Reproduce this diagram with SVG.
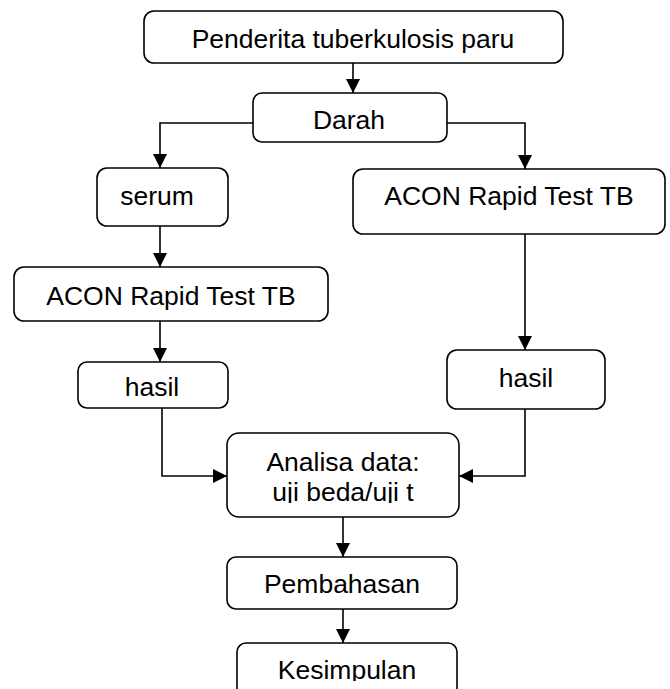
<svg xmlns="http://www.w3.org/2000/svg" width="670" height="689" viewBox="0 0 670 689">
<style>
.box{fill:#fff;stroke:#000;stroke-width:1.6}
.lbl{font-family:"Liberation Sans",Arial,sans-serif;font-size:26.5px;fill:#000;text-anchor:middle}
.con{fill:none;stroke:#000;stroke-width:1.6}
</style>
<defs>
<marker id="ah" markerUnits="userSpaceOnUse" markerWidth="15" markerHeight="15" refX="14" refY="7" orient="auto">
<path d="M0,0 L14,7 L0,14 z" fill="#000"/>
</marker>
<clipPath id="clipA"><rect x="227" y="433" width="232" height="70"/></clipPath>
<clipPath id="clipK"><rect x="237" y="643" width="220" height="38"/></clipPath>
</defs>
<g id="connectors">
<path class="con" d="M353 63 V93" marker-end="url(#ah)"/>
<path class="con" d="M253 123 H160 V168" marker-end="url(#ah)"/>
<path class="con" d="M447 123 H525 V169" marker-end="url(#ah)"/>
<path class="con" d="M160 226 V267" marker-end="url(#ah)"/>
<path class="con" d="M160 321 V362" marker-end="url(#ah)"/>
<path class="con" d="M525 234 V350" marker-end="url(#ah)"/>
<path class="con" d="M162 408 V476 H227" marker-end="url(#ah)"/>
<path class="con" d="M525 409 V476 H459" marker-end="url(#ah)"/>
<path class="con" d="M343 517 V557" marker-end="url(#ah)"/>
<path class="con" d="M343 609 V643" marker-end="url(#ah)"/>
</g>
<g id="penderita">
<rect class="box" x="144" y="11" width="419" height="52" rx="10"/>
<text class="lbl" x="353" y="48">Penderita tuberkulosis paru</text>
</g>
<g id="darah">
<rect class="box" x="253" y="93" width="194" height="49" rx="9"/>
<text class="lbl" x="349" y="129">Darah</text>
</g>
<g id="serum">
<rect class="box" x="97" y="168" width="131" height="58" rx="10"/>
<text class="lbl" x="157" y="205">serum</text>
</g>
<g id="acon-left">
<rect class="box" x="14" y="267" width="314" height="54" rx="10"/>
<text class="lbl" x="171" y="305">ACON Rapid Test TB</text>
</g>
<g id="acon-right">
<rect class="box" x="353" y="169" width="312" height="65" rx="10"/>
<text class="lbl" x="509" y="205">ACON Rapid Test TB</text>
</g>
<g id="hasil-left">
<rect class="box" x="78" y="362" width="150" height="46" rx="9"/>
<text class="lbl" x="152" y="396">hasil</text>
</g>
<g id="hasil-right">
<rect class="box" x="447" y="350" width="158" height="59" rx="10"/>
<text class="lbl" x="526" y="387">hasil</text>
</g>
<g id="analisa">
<rect class="box" x="227" y="433" width="232" height="84" rx="12"/>
<g clip-path="url(#clipA)">
<text class="lbl" x="343" y="471">Analisa data:</text>
<text class="lbl" x="343" y="501">uji beda/uji t</text>
</g>
</g>
<g id="pembahasan">
<rect class="box" x="227" y="557" width="230" height="52" rx="9"/>
<text class="lbl" x="342" y="593">Pembahasan</text>
</g>
<g id="kesimpulan">
<rect class="box" x="237" y="643" width="220" height="60" rx="9"/>
<g clip-path="url(#clipK)">
<text class="lbl" x="347" y="679">Kesimpulan</text>
</g>
</g>
</svg>
